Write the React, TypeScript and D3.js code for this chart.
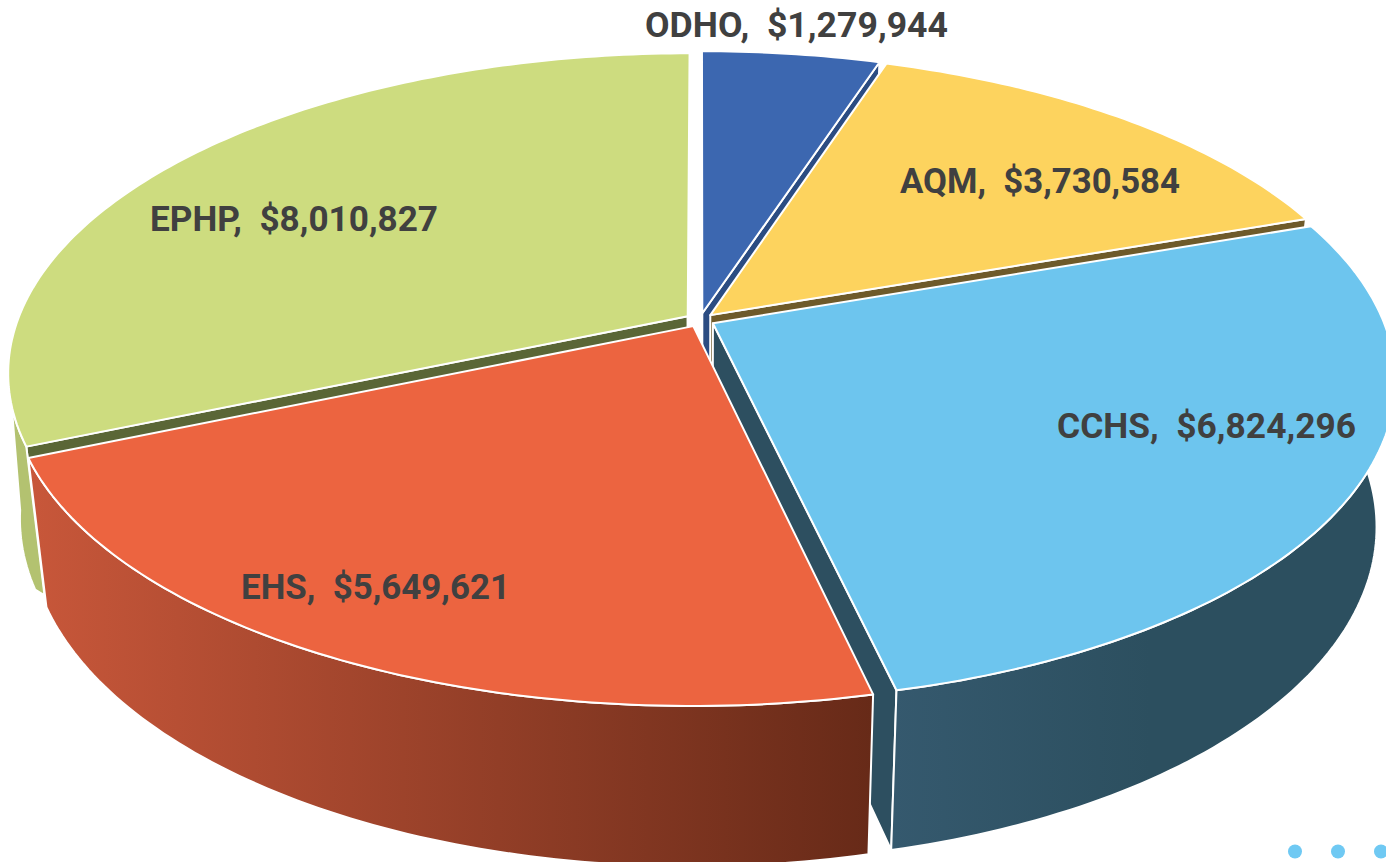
import React from "react";
import * as d3 from "d3";

const categories = ["ODHO", "AQM", "CCHS", "EHS", "EPHP"];
const amounts = [1279944, 3730584, 6824296, 5649621, 8010827];

const topColors = ["#3c67b0", "#fdd35e", "#6dc5ee", "#ec6440", "#cddc7f"];
const innerWallColors = ["#2b4c82", "#6e5a2a", "#2d4f60", "#692b1a", "#5a6636"];
const wallStart = ["#2b4c82", "#6e5a2a", "#35596e", "#c8573a", "#b3c270"];
const wallEnd = ["#2b4c82", "#6e5a2a", "#2c4f5f", "#672a18", "#b3c270"];

const labelAnchors: [number, number, number][] = [
  [645, 37, 303],
  [900, 193, 280],
  [1057, 438, 299],
  [241, 599, 269],
  [150, 231, 288],
];

const W = 1386;
const H = 862;
const CX = 700;
const CY = 320;
const RX = 670;
const RY = 310.5;
const PERSP = 0.1763;
const EXPLODE = 0.022;
const BASE_SX = 0.973;
const WALL_SX = [0.973, 0.973, 0.973, 0.973, 0.983];
const WALL_CUTOFF = [0, 0, 0, 0, -0.14];
const DEPTH_SY = 1.045;
const DEPTH_Y0 = 463;

type P = [number, number];

// Disk coordinates to the upper face on screen
const project = (u: number, v: number): P => {
  const w = 1 - PERSP * v;
  return [CX + (RX * u) / w, CY + (RY * v) / w];
};
// Upper face to the lower face
const dropBy = (sx: number) => ([x, y]: P): P => [
  CX + sx * (x - CX),
  DEPTH_Y0 + DEPTH_SY * (y - CY),
];
const drop = dropBy(BASE_SX);

const line = d3.line<P>().x((d) => d[0]).y((d) => d[1]);
const closed = (pts: P[]) => line(pts) + "Z";

const arcs = d3
  .pie<number>()
  .sort(null)
  .startAngle(0)
  .endAngle(2 * Math.PI)(amounts);

const money = d3.format("$,");

const slices = arcs.map((a, i) => {
  const mid = (a.startAngle + a.endAngle) / 2;
  const ou = EXPLODE * Math.sin(mid);
  const ov = -EXPLODE * Math.cos(mid);
  const at = (t: number, r = 1) =>
    project(ou + r * Math.sin(t), ov - r * Math.cos(t));
  const steps = Math.max(8, Math.ceil((a.endAngle - a.startAngle) * 60));
  const angles = d3
    .range(steps + 1)
    .map((k) => a.startAngle + ((a.endAngle - a.startAngle) * k) / steps);
  const rim = angles.map((t) => at(t));
  const apex = at(0, 0);
  const top = [apex, ...rim];
  // only the part of the rim that faces the viewer carries a wall
  const frontRim = angles
    .filter((t) => Math.cos(t) < WALL_CUTOFF[i])
    .map((t) => at(t));
  const lower = frontRim.map(dropBy(WALL_SX[i]));
  // the wall's end that meets the next slice shares that slice's corner
  if (i === 4 && frontRim.length) lower[0] = drop(frontRim[0]);
  const outer = frontRim.length ? [...frontRim, ...lower.reverse()] : [];
  const faces: P[][] = [];
  const cross = (r: P) => {
    const b = drop(r);
    return (r[0] - apex[0]) * (b[1] - r[1]) - (r[1] - apex[1]) * (b[0] - r[0]);
  };
  const first = rim[0];
  const last = rim[rim.length - 1];
  if (cross(first) < -1) faces.push([apex, first, drop(first), drop(apex)]);
  if (cross(last) > 1) faces.push([apex, last, drop(last), drop(apex)]);
  const xs = outer.map((p) => p[0]);
  return { i, top, outer, faces, x0: d3.min(xs) ?? 0, x1: d3.max(xs) ?? 1 };
});

// Painted back to front
const paintOrder = [0, 1, 4, 2, 3];

const STROKE = "#ffffff";
const SW = 2;

export default function App() {
  return (
    <svg
      width={W}
      height={H}
      viewBox={`0 0 ${W} ${H}`}
      style={{ position: "fixed", left: 0, top: 0, background: "#fff" }}
    >
      <defs>
        {slices.map((s) => (
          <linearGradient
            key={s.i}
            id={`wall-${s.i}`}
            gradientUnits="userSpaceOnUse"
            x1={s.x0}
            x2={s.i === 2 ? s.x0 + 260 : s.x1}
            y1={0}
            y2={0}
          >
            <stop offset="0" stopColor={wallStart[s.i]} />
            <stop offset="1" stopColor={wallEnd[s.i]} />
          </linearGradient>
        ))}
      </defs>
      {paintOrder.map((idx) => {
        const s = slices[idx];
        return (
          <g key={idx}>
            {s.faces.map((f, k) => (
              <path
                key={k}
                d={closed(f)}
                fill={innerWallColors[idx]}
                stroke={STROKE}
                strokeWidth={SW}
                strokeLinejoin="round"
              />
            ))}
            {s.outer.length > 0 && (
              <path
                d={closed(s.outer)}
                fill={`url(#wall-${idx})`}
                stroke={STROKE}
                strokeWidth={SW}
                strokeLinejoin="round"
              />
            )}
            <path
              d={closed(s.top)}
              fill={topColors[idx]}
              stroke={STROKE}
              strokeWidth={SW}
              strokeLinejoin="round"
            />
          </g>
        );
      })}
      {categories.map((c, i) => {
        const [x, y, len] = labelAnchors[i];
        return (
          <text
            key={c}
            x={x}
            y={y}
            textLength={len}
            lengthAdjust="spacingAndGlyphs"
            fontFamily="Roboto, 'Open Sans', sans-serif"
            fontWeight={700}
            fontSize={35}
            fill="#404040"
            style={{ whiteSpace: "pre" }}
          >
            {`${c},  ${money(amounts[i])}`}
          </text>
        );
      })}
      {[1295, 1338, 1381].map((x) => (
        <circle key={x} cx={x} cy={851.5} r={7} fill="#6fc9f3" />
      ))}
    </svg>
  );
}
